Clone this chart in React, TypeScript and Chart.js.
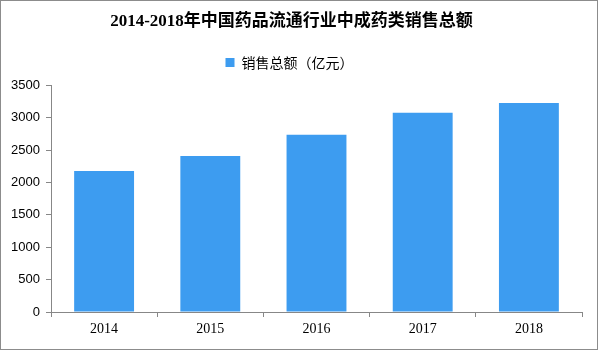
import React, { useEffect, useRef } from 'react';
import { Chart, registerables } from 'chart.js';

Chart.register(...registerables);

const titleText = '2014-2018年中国药品流通行业中成药类销售总额';
const seriesLabel = '销售总额（亿元）';
const categories = ['2014', '2015', '2016', '2017', '2018'];
const salesValues = [2179, 2411, 2737, 3078, 3227];
const yMin = 0;
const yMax = 3500;
const yStep = 500;

const barColor = '#3d9cf0';
const axisColor = '#878787';

const legendNudge = {
  id: 'legendNudge',
  afterLayout(chart: any) {
    const l = chart.legend;
    if (l) {
      l.top -= 6;
      l.bottom -= 6;
      l.left -= 2;
      l.right -= 2;
    }
  },
};

export default function App() {
  const ref = useRef<HTMLCanvasElement | null>(null);

  useEffect(() => {
    document.body.style.margin = '0';
    const canvas = ref.current;
    if (!canvas) return;
    const chart = new Chart(canvas, {
      type: 'bar',
      data: {
        labels: categories,
        datasets: [
          {
            label: seriesLabel,
            data: salesValues,
            backgroundColor: barColor,
            borderWidth: 0,
            barPercentage: 0.564,
            categoryPercentage: 1,
          },
        ],
      },
      options: {
        animation: false,
        responsive: false,
        devicePixelRatio: 1,
        layout: { padding: { left: 0, right: 15, top: 0, bottom: 0 } },
        plugins: {
          title: {
            display: true,
            text: titleText,
            color: '#000',
            font: {
              family: '"Liberation Serif", "Noto Sans CJK SC", serif',
              size: 17,
              weight: 'bold',
              lineHeight: 1.2,
            },
            padding: { top: 10, bottom: 5 },
          },
          legend: {
            display: true,
            position: 'top',
            labels: {
              color: '#000',
              boxWidth: 9,
              boxHeight: 9,
              padding: 25,
              font: { family: '"Noto Sans CJK SC", sans-serif', size: 14 },
            },
          },
          tooltip: { enabled: false },
        },
        scales: {
          x: {
            offset: true,
            grid: {
              display: true,
              drawOnChartArea: false,
              drawTicks: true,
              tickLength: 5,
              color: axisColor,
              offset: true,
            },
            border: { display: true, color: axisColor, width: 1 },
            ticks: {
              color: '#000',
              padding: 4,
              font: { family: '"Liberation Serif", serif', size: 14 },
            },
            afterFit(scale: any) {
              scale.height = 37;
            },
          },
          y: {
            min: yMin,
            max: yMax,
            grid: {
              display: true,
              drawOnChartArea: false,
              drawTicks: true,
              tickLength: 5,
              color: axisColor,
            },
            border: { display: true, color: axisColor, width: 1 },
            ticks: {
              stepSize: yStep,
              color: '#000',
              padding: 6,
              font: { family: '"Liberation Sans", Arial, sans-serif', size: 13 },
              callback: (v: any) => String(v),
            },
            afterFit(scale: any) {
              scale.width = 50;
            },
          },
        },
      },
      plugins: [legendNudge],
    });
    return () => chart.destroy();
  }, []);

  return (
    <div
      style={{
        width: 598,
        height: 350,
        boxSizing: 'border-box',
        border: '1px solid #8c8c8c',
        background: '#fff',
        overflow: 'hidden',
      }}
    >
      <canvas ref={ref} width={596} height={348} style={{ display: 'block' }} />
    </div>
  );
}
